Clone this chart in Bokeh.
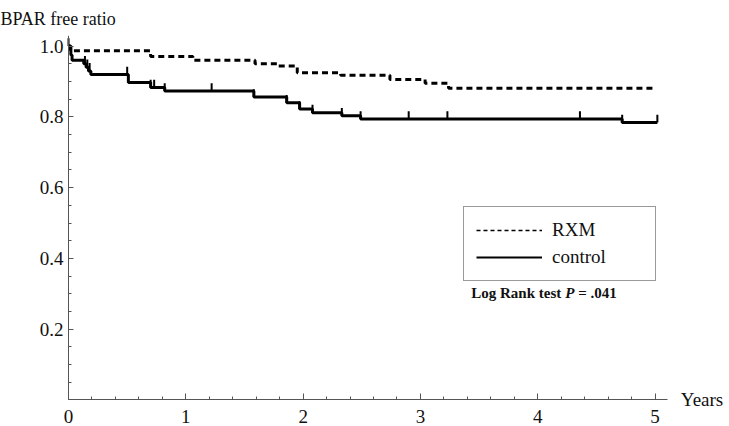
import numpy as np
from bokeh.plotting import figure
from bokeh.models import Range1d, FixedTicker, PrintfTickFormatter, Label, Legend, LegendItem
from bokeh.embed import file_html
from bokeh.resources import INLINE

# ---- data ----
rxm_t = [0.0, 0.02, 0.70, 1.06, 1.59, 1.78, 1.95, 2.32, 2.74, 3.04, 3.24, 5.0]
rxm_s = [1.0, 0.987, 0.971, 0.960, 0.950, 0.944, 0.925, 0.918, 0.906, 0.895, 0.881, 0.881]

ctrl_t = [0.0, 0.01, 0.02, 0.03, 0.13, 0.15, 0.17, 0.19, 0.51, 0.70, 0.82,
          1.58, 1.86, 1.97, 2.08, 2.33, 2.49, 4.72, 5.02]
ctrl_s = [1.0, 0.99, 0.975, 0.960, 0.950, 0.940, 0.930, 0.920, 0.897, 0.883, 0.873,
          0.856, 0.840, 0.822, 0.812, 0.803, 0.794, 0.784, 0.784]

ctrl_cens_t = [0.0, 0.14, 0.16, 0.18, 0.50, 0.70, 0.73, 0.82, 1.22, 1.58, 1.86,
               1.97, 2.08, 2.33, 2.49, 2.90, 3.23, 4.36, 4.72, 5.02]

x_major = [0, 1, 2, 3, 4, 5]
y_major = [0.2, 0.4, 0.6, 0.8, 1.0]

series_names = ["RXM", "control"]


def km_level(ts, ss, t):
    i = np.searchsorted(np.asarray(ts), t, side="right") - 1
    return ss[max(i, 0)]


cens_s = [km_level(ctrl_t, ctrl_s, t) for t in ctrl_cens_t]

SERIF = "Liberation Serif"

p = figure(width=729, height=426, output_backend="svg", toolbar_location=None,
           x_range=Range1d(-0.58, 5.635), y_range=Range1d(-0.075, 1.03),
           min_border_left=0, min_border_right=0, min_border_top=35,
           min_border_bottom=0)
p.grid.visible = False
p.outline_line_color = None
p.background_fill_color = "white"

# title
p.title.text = "BPAR free ratio"
p.title.text_font = SERIF
p.title.text_font_size = "18px"
p.title.text_font_style = "normal"
p.title.text_color = "#111111"
p.title.align = "left"
p.title.offset = 0
p.title.standoff = 13

# axes
xa = p.xaxis[0]
xa.fixed_location = 0
xa.bounds = (0, 5.11)
xa.ticker = FixedTicker(ticks=x_major, minor_ticks=[round(0.2 * i, 2) for i in range(0, 26)])
xa.major_tick_in = 6
xa.major_tick_out = 0
xa.minor_tick_in = 3
xa.minor_tick_out = 0
xa.major_label_standoff = 10
xa.major_label_text_font = SERIF
xa.major_label_text_font_size = "19px"
xa.major_label_text_color = "#111111"
xa.axis_line_color = "#555555"
xa.major_tick_line_color = "#555555"
xa.minor_tick_line_color = "#555555"

ya = p.yaxis[0]
ya.fixed_location = 0
ya.bounds = (0, 1.03)
ya.ticker = FixedTicker(ticks=y_major, minor_ticks=[round(0.05 * i, 2) for i in range(0, 21)])
ya.formatter = PrintfTickFormatter(format="%.1f")
ya.major_tick_in = 5
ya.major_tick_out = 0
ya.minor_tick_in = 3
ya.minor_tick_out = 0
ya.major_label_standoff = 5
ya.major_label_text_font = SERIF
ya.major_label_text_font_size = "19px"
ya.major_label_text_color = "#111111"
ya.axis_line_color = "#555555"
ya.major_tick_line_color = "#555555"
ya.minor_tick_line_color = "#555555"

# curves
p.step(rxm_t, rxm_s, mode="after", line_color="black", line_width=3, line_dash="6 4")
p.step(ctrl_t, ctrl_s, mode="after", line_color="black", line_width=3)
p.segment(x0=ctrl_cens_t, y0=cens_s, x1=ctrl_cens_t, y1=[s + 0.022 for s in cens_s],
          line_color="black", line_width=2)

# legend proxies (not drawn in the plot area: NaN data)
r_rxm = p.line(x=[np.nan], y=[np.nan], line_color="black", line_width=1.5, line_dash="4 3")
r_ctrl = p.line(x=[np.nan], y=[np.nan], line_color="black", line_width=2)
legend = Legend(items=[LegendItem(label=series_names[0], renderers=[r_rxm]),
                       LegendItem(label=series_names[1], renderers=[r_ctrl])],
                location=(463, 145), orientation="vertical")
legend.border_line_color = "#333333"
legend.border_line_width = 1.5
legend.background_fill_color = "white"
legend.background_fill_alpha = 1.0
legend.label_text_font = SERIF
legend.label_text_font_size = "19px"
legend.label_text_color = "#111111"
legend.glyph_width = 66
legend.glyph_height = 20
legend.label_standoff = 10
legend.padding = 12
legend.spacing = 5
legend.label_height = 22
legend.label_width = 91
legend.margin = 0
p.add_layout(legend)

# annotations
p.add_layout(Label(x=5.22, y=0, text="Years", text_font=SERIF, text_font_size="19px",
                   text_baseline="middle", text_align="left", text_color="#111111"))
p.add_layout(Label(x=3.433, y=0.301, text="Log Rank test", text_font=SERIF,
                   text_font_size="15px", text_font_style="bold",
                   text_baseline="middle", text_color="#111111"))
p.add_layout(Label(x=4.235, y=0.301, text="P", text_font=SERIF,
                   text_font_size="15px", text_font_style="bold italic",
                   text_baseline="middle", text_color="#111111"))
p.add_layout(Label(x=4.345, y=0.301, text="= .041", text_font=SERIF,
                   text_font_size="15px", text_font_style="bold",
                   text_baseline="middle", text_color="#111111"))

open("out.html", "w").write(file_html(p, INLINE))
